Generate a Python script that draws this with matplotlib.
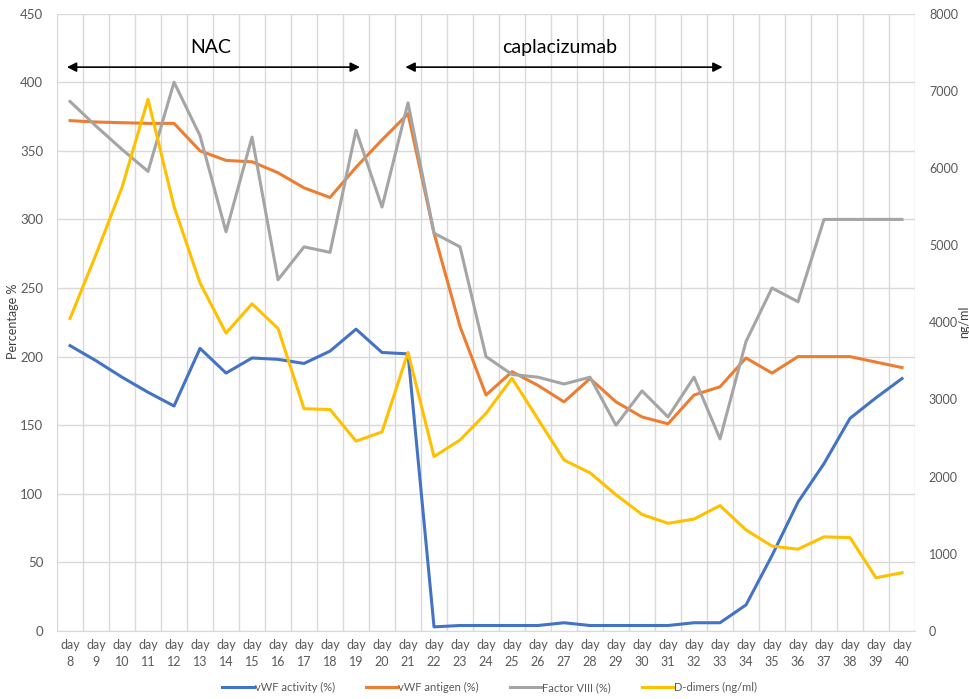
import numpy as np
import matplotlib
matplotlib.use("Agg")
import matplotlib.pyplot as plt

plt.rcParams["font.family"] = ["Lato", "DejaVu Sans"]

days = list(range(8, 41))
vwf_activity = [208, 197, 185, 174, 164, 206, 188, 199, 198, 195, 204, 220, 203, 202,
                3, 4, 4, 4, 4, 6, 4, 4, 4, 4, 6, 6, 19, 55, 94, 122, 155, 170, 184]
vwf_antigen = [372, 371, 370.5, 370, 370, 350, 343, 342, 334, 323, 316, 338, 358, 377,
               290, 222, 172, 189, 179, 167, 184, 167, 156, 151, 172, 178, 199, 188,
               200, 200, 200, 196, 192]
factor_viii = [386, 368, 351, 335, 400, 361, 291, 360, 256, 280, 276, 365, 309, 385,
               290, 280, 200, 187, 185, 180, 185, 150, 175, 156, 185, 140, 211, 250,
               240, 300, 300, 300, 300]
d_dimers = [4050, 4880, 5750, 6890, 5500, 4510, 3860, 4240, 3920, 2880, 2870, 2460, 2580,
            3610, 2260, 2475, 2820, 3275, 2745, 2215, 2050, 1765, 1510, 1395, 1450, 1625,
            1310, 1100, 1060, 1220, 1210, 690, 755]

tick_labels = [f"day\n{d}" for d in days]

c_blue = "#4472c4"
c_orange = "#ed7d31"
c_gray = "#a5a5a5"
c_yellow = "#ffc000"
grid_c = "#d9d9d9"
text_c = "#595959"

fig = plt.figure(figsize=(9.7, 6.99), dpi=100)
ax = fig.add_axes([0.0588, 0.0973, 0.8845, 0.8832])
ax2 = ax.twinx()

x = np.arange(len(days))
lw = 2.2
l1, = ax.plot(x, vwf_activity, color=c_blue, lw=lw, label="vWF activity (%)")
l2, = ax.plot(x, vwf_antigen, color=c_orange, lw=lw, label="vWF antigen (%)")
l3, = ax.plot(x, factor_viii, color=c_gray, lw=lw, label="Factor VIII (%)")
l4, = ax2.plot(x, d_dimers, color=c_yellow, lw=lw, label="D-dimers (ng/ml)")

ax.set_xlim(-0.5, len(days) - 0.5)
ax.set_ylim(0, 450)
ax2.set_ylim(0, 8000)
ax.set_yticks(np.arange(0, 451, 50))
ax2.set_yticks(np.arange(0, 8001, 1000))

# category gridlines between ticks
for b in np.arange(-0.5, len(days), 1.0):
    ax.axvline(b, color=grid_c, lw=1, zorder=0)
ax.yaxis.grid(True, color=grid_c, lw=1)
ax.set_axisbelow(True)

ax.set_xticks(x)
ax.set_xticklabels(tick_labels, fontsize=9, color=text_c, linespacing=1.5)
ax.tick_params(axis="x", length=0, pad=6)
ax.tick_params(axis="y", length=0, labelsize=9.5, labelcolor=text_c, pad=10)
ax2.tick_params(axis="y", length=0, labelsize=9, labelcolor=text_c, pad=10)

for a in (ax, ax2):
    for s in a.spines.values():
        s.set_visible(False)
ax.spines["bottom"].set_visible(True)
ax.spines["bottom"].set_color(grid_c)

fig.text(0.0135, 0.54, "Percentage %", fontsize=9, color="#404040",
         rotation=90, ha="center", va="center")
fig.text(0.9935, 0.54, "ng/ml", fontsize=9, color="#404040",
         rotation=90, ha="center", va="center")

# treatment period arrows
ax.annotate("", xy=(-0.12, 411), xytext=(11.15, 411),
            arrowprops=dict(arrowstyle="<|-|>", color="black", lw=1.2,
                            mutation_scale=14, shrinkA=0, shrinkB=0))
ax.text(5.4, 425, "NAC", fontsize=14, ha="center", va="center")
ax.annotate("", xy=(12.9, 411), xytext=(25.1, 411),
            arrowprops=dict(arrowstyle="<|-|>", color="black", lw=1.2,
                            mutation_scale=14, shrinkA=0, shrinkB=0))
ax.text(18.85, 425, "caplacizumab", fontsize=14, ha="center", va="center")

fig.legend(handles=[l1, l2, l3, l4], loc="center", bbox_to_anchor=(0.505, 0.016),
           ncol=4, frameon=False, fontsize=8, handlelength=2.8, handletextpad=0.1,
           columnspacing=2.8, labelcolor=text_c)

fig.savefig("out.png", dpi=100)
